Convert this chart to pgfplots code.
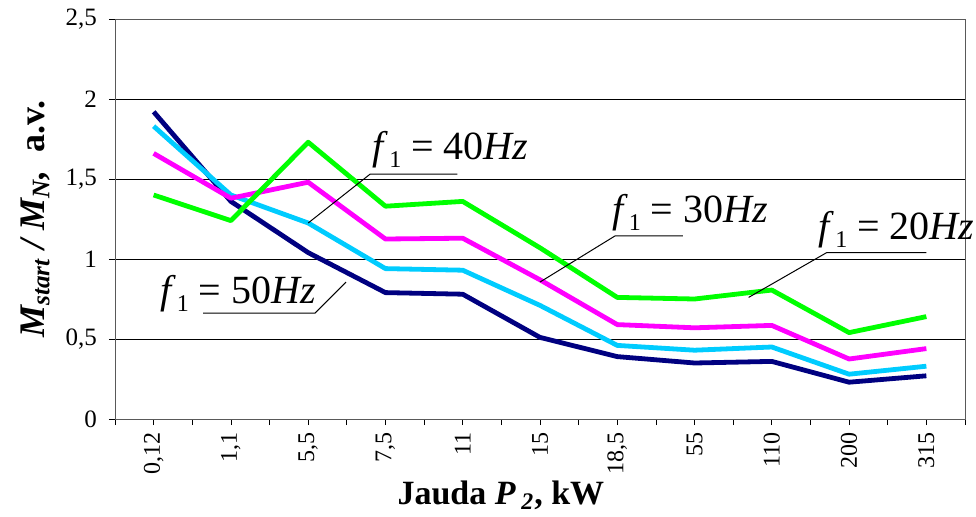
\documentclass[border=0pt]{standalone}
\usepackage{pgfplots}
\pgfplotsset{compat=1.18}
\usepackage{pgfplotstable}
\usepackage{fontspec}
\setmainfont{Liberation Serif}
\definecolor{cnavy}{RGB}{0,0,128}
\definecolor{ccyan}{RGB}{0,204,255}
\definecolor{cmag}{RGB}{255,0,255}
\definecolor{cgreen}{RGB}{0,255,0}
\newcommand{\fone}{\textit{f}\kern0.5pt\raisebox{-4pt}{\fontsize{12}{12}\selectfont 1}}
\pgfplotstableread{
x navy cyan mag green
0 1.92 1.83 1.66 1.40
1 1.36 1.40 1.38 1.24
2 1.04 1.225 1.48 1.73
3 0.79 0.94 1.125 1.33
4 0.78 0.93 1.13 1.36
5 0.51 0.71 0.87 1.07
6 0.39 0.46 0.59 0.76
7 0.35 0.43 0.57 0.75
8 0.36 0.45 0.585 0.806
9 0.23 0.28 0.375 0.54
10 0.27 0.33 0.44 0.64
}\datatable
\begin{document}
\begin{tikzpicture}
\useasboundingbox (-57.5pt,-48.5pt) rectangle (430.5pt,209.5pt);
\begin{axis}[
  scale only axis, width=425pt, height=200pt,
  at={(0,0)}, anchor=south west,
  xmin=-0.5, xmax=10.5, ymin=0, ymax=2.5,
  clip=false,
  axis line style={black!65},
  xtick={0,...,10},
  xticklabels={{0,12},{1,1},{5,5},{7,5},11,15,{18,5},55,110,200,315},
  minor xtick={-0.5,0.5,1.5,2.5,3.5,4.5,5.5,6.5,7.5,8.5,9.5,10.5},
  ytick={0,0.5,1,1.5,2,2.5},
  yticklabels={0,{0,5},1,{1,5},2,{2,5}},
  tick align=outside, tick pos=left,
  major tick length=3pt, minor tick length=3pt,
  every tick/.style={black, thin},
  ymajorgrids, grid style={black, thin},
  /pgf/number format/assume math mode=true,
  xticklabel style={rotate=90, anchor=east, font=\fontsize{12}{14}\selectfont},
  yticklabel style={font=\fontsize{12.5}{14}\selectfont, xshift=-2.5pt},
  xlabel={\textbf{Jauda \textit{P}\,\textsubscript{\textit{2}}, kW}},
  xlabel style={at={(axis description cs:0.454,-0.19)}, anchor=center, font=\fontsize{17}{20}\selectfont},
  ylabel={\textbf{\textit{M\textsubscript{start} / M\textsubscript{N},}\ \ a.v.}},
  ylabel style={at={(axis description cs:-0.094,0.5)}, anchor=center, font=\fontsize{18}{21}\selectfont},
]
\addplot[cnavy, line width=2.4pt, line join=round] table[x=x, y=navy] {\datatable};
\addplot[ccyan, line width=2.4pt, line join=round] table[x=x, y=cyan] {\datatable};
\addplot[cmag, line width=2.4pt, line join=round] table[x=x, y=mag] {\datatable};
\addplot[cgreen, line width=2.4pt, line join=round] table[x=x, y=green] {\datatable};
% annotations
\draw[black, line width=0.5pt] (axis cs:2,1.225) -- (axis cs:2.80,1.53) -- (axis cs:3.93,1.53);
\node[anchor=base west, inner sep=0pt, font=\fontsize{20}{24}\selectfont] at (axis cs:2.83,1.62) {\fone{} = 40\textit{Hz}};
\draw[black, line width=0.5pt] (axis cs:5.0,0.856) -- (axis cs:5.97,1.144) -- (axis cs:6.85,1.144);
\node[anchor=base west, inner sep=0pt, font=\fontsize{20}{24}\selectfont] at (axis cs:5.93,1.23) {\fone{} = 30\textit{Hz}};
\draw[black, line width=0.5pt] (axis cs:7.7,0.76) -- (axis cs:8.71,1.04) -- (axis cs:10.0,1.04);
\node[anchor=base west, inner sep=0pt, font=\fontsize{20}{24}\selectfont] at (axis cs:8.6,1.12) {\fone{} = 20\textit{Hz}};
\draw[black, line width=0.5pt] (axis cs:0.64,0.6625) -- (axis cs:2.09,0.6625) -- (axis cs:2.49,0.856);
\node[anchor=base west, inner sep=0pt, font=\fontsize{20}{24}\selectfont] at (axis cs:0.08,0.725) {\fone{} = 50\textit{Hz}};
\end{axis}
\end{tikzpicture}
\end{document}
